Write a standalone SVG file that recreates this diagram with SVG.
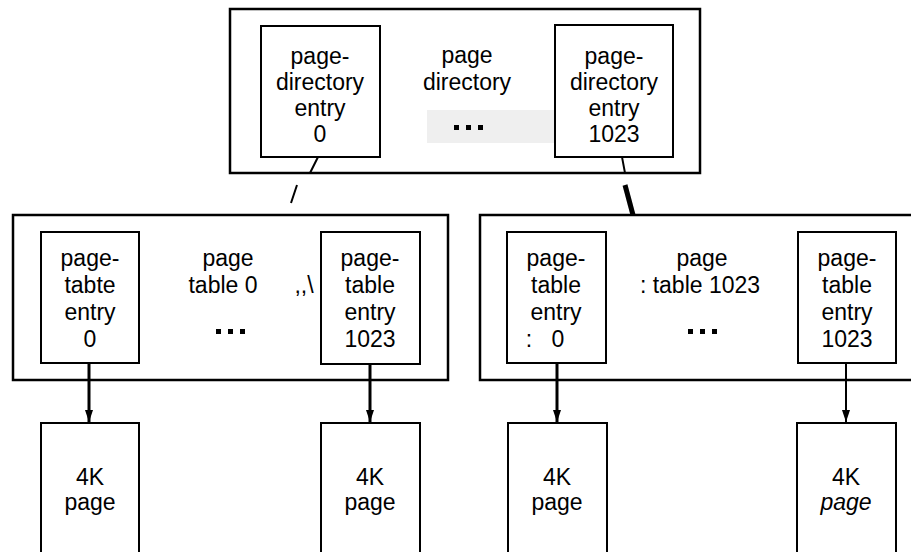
<svg xmlns="http://www.w3.org/2000/svg" width="911" height="552" viewBox="0 0 911 552">
<style>
.box{fill:#fff;stroke:#000;stroke-width:2}
.outer{fill:#fff;stroke:#000;stroke-width:2.5}
.t{font-family:"Liberation Sans",Arial,sans-serif;font-size:23px;fill:#000;text-anchor:middle}
.it{font-style:italic}
.con{stroke:#000;fill:none}
.dots{fill:#000}
</style>
<defs>
<marker id="ah" viewBox="0 0 12 8" refX="12" refY="4" markerWidth="12" markerHeight="8" markerUnits="userSpaceOnUse" orient="auto">
<path d="M0,0 L12,4 L0,8 Z" fill="#000"/>
</marker>
</defs>
<rect width="911" height="552" fill="#fff"/>

<g id="page-directory">
<rect class="outer" x="230" y="9" width="470" height="164"/>
<rect x="427" y="110" width="128" height="33" fill="#efefef"/>
<text class="t" x="467" y="63">page</text>
<text class="t" x="467" y="90">directory</text>
<rect class="dots" x="454" y="125" width="5" height="5"/>
<rect class="dots" x="466" y="125" width="5" height="5"/>
<rect class="dots" x="478" y="125" width="5" height="5"/>
</g>
<g id="pde-0">
<rect class="box" x="261" y="26" width="119" height="131"/>
<text class="t" x="320" y="64">page-</text>
<text class="t" x="320" y="90">directory</text>
<text class="t" x="320" y="116">entry</text>
<text class="t" x="320" y="142">0</text>
</g>
<g id="pde-1023">
<rect class="box" x="555" y="25" width="118" height="132"/>
<text class="t" x="614" y="64">page-</text>
<text class="t" x="614" y="90">directory</text>
<text class="t" x="614" y="116">entry</text>
<text class="t" x="614" y="142">1023</text>
</g>

<g id="page-table-0">
<rect class="outer" x="13" y="215" width="435" height="165"/>
<text class="t" x="228" y="266">page</text>
<text class="t" x="223" y="293">table 0</text>
<text class="t" x="304" y="293">,,\</text>
<rect class="dots" x="216" y="329" width="5" height="5"/>
<rect class="dots" x="228" y="329" width="5" height="5"/>
<rect class="dots" x="240" y="329" width="5" height="5"/>
</g>
<g id="pte-0-0">
<rect class="box" x="41" y="232" width="98" height="131"/>
<text class="t" x="90" y="266">page-</text>
<text class="t" x="90" y="293">tabte</text>
<text class="t" x="90" y="320">entry</text>
<text class="t" x="90" y="347">0</text>
</g>
<g id="pte-0-1023">
<rect class="box" x="321" y="232" width="99" height="132"/>
<text class="t" x="370" y="266">page-</text>
<text class="t" x="370" y="293">table</text>
<text class="t" x="370" y="320">entry</text>
<text class="t" x="370" y="347">1023</text>
</g>

<g id="page-table-1023">
<rect class="outer" x="480" y="215" width="440" height="165"/>
<text class="t" x="702" y="266">page</text>
<text class="t" x="700" y="293">: table 1023</text>
<rect class="dots" x="688" y="329" width="5" height="5"/>
<rect class="dots" x="700" y="329" width="5" height="5"/>
<rect class="dots" x="712" y="329" width="5" height="5"/>
</g>
<g id="pte-1023-0">
<rect class="box" x="507" y="232" width="99" height="131"/>
<text class="t" x="556" y="266">page-</text>
<text class="t" x="556" y="293">table</text>
<text class="t" x="556" y="320">entry</text>
<text class="t" x="529" y="347">:</text>
<text class="t" x="558" y="347">0</text>
</g>
<g id="pte-1023-1023">
<rect class="box" x="798" y="232" width="98" height="131"/>
<text class="t" x="847" y="266">page-</text>
<text class="t" x="847" y="293">table</text>
<text class="t" x="847" y="320">entry</text>
<text class="t" x="847" y="347">1023</text>
</g>

<g id="page-a">
<rect class="box" x="41" y="423" width="98" height="140"/>
<text class="t" x="90" y="485">4K</text>
<text class="t" x="90" y="510">page</text>
</g>
<g id="page-b">
<rect class="box" x="321" y="423" width="99" height="140"/>
<text class="t" x="370" y="485">4K</text>
<text class="t" x="370" y="510">page</text>
</g>
<g id="page-c">
<rect class="box" x="508" y="423" width="99" height="140"/>
<text class="t" x="557" y="485">4K</text>
<text class="t" x="557" y="510">page</text>
</g>
<g id="page-d">
<rect class="box" x="797" y="423" width="99" height="140"/>
<text class="t" x="846" y="485">4K</text>
<text class="t it" x="846" y="510">page</text>
</g>

<g id="connectors">
<path class="con" stroke-width="2" d="M318,157 L310,173 M297,185 L291,203"/>
<path class="con" stroke-width="2" d="M622,157 L625,173"/>
<path class="con" stroke-width="5" d="M625,185 L633,215"/>
<line class="con" stroke-width="3" x1="89" y1="363" x2="89" y2="422" marker-end="url(#ah)"/>
<line class="con" stroke-width="3" x1="370" y1="364" x2="370" y2="422" marker-end="url(#ah)"/>
<line class="con" stroke-width="3" x1="557" y1="363" x2="557" y2="422" marker-end="url(#ah)"/>
<line class="con" stroke-width="2" x1="846" y1="363" x2="846" y2="422" marker-end="url(#ah)"/>
</g>
</svg>
